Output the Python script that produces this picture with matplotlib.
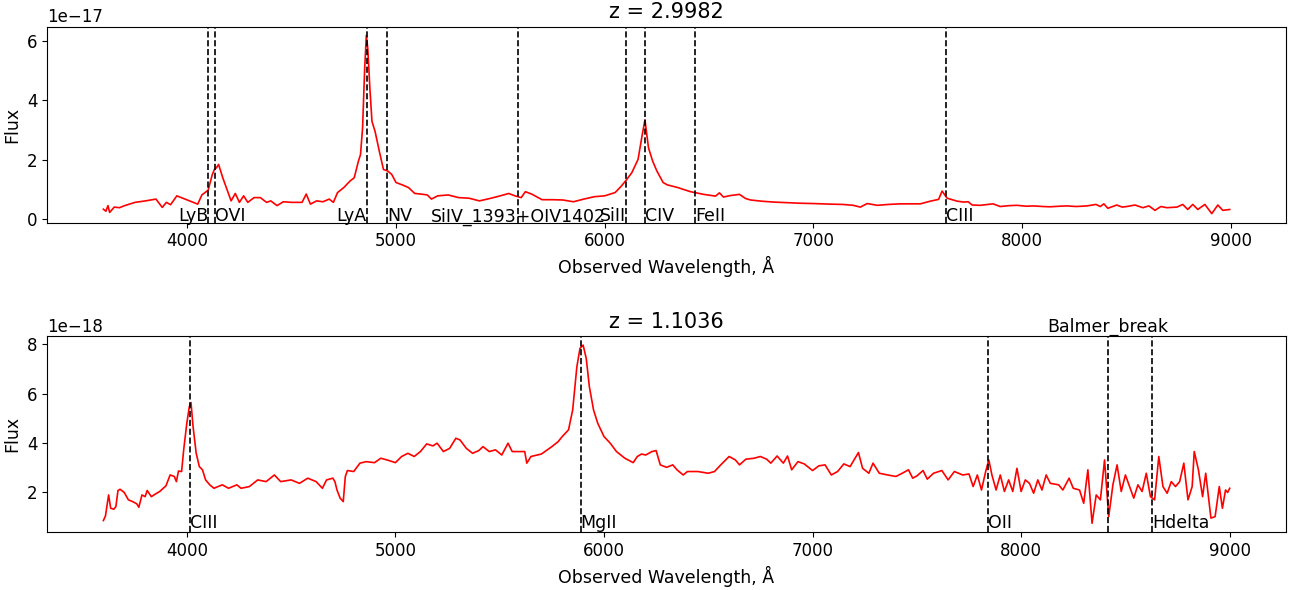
import matplotlib
matplotlib.use("Agg")
import matplotlib.pyplot as plt

# spectrum 1 (z = 2.9982), flux in units of 1e-17
wave_1 = [3598, 3610, 3620, 3628, 3650, 3675, 3700, 3750, 3800, 3850, 3880, 3900, 3920, 3950,
          4000, 4030, 4050, 4070, 4100, 4120, 4130, 4140, 4150, 4170, 4190, 4210, 4230, 4250,
          4270, 4290, 4320, 4350, 4380, 4400, 4430, 4460, 4500, 4550, 4570, 4590, 4620, 4650,
          4680, 4700, 4720, 4750, 4780, 4800, 4820, 4830, 4840, 4850, 4858, 4865, 4875, 4885,
          4900, 4920, 4940, 4960, 4980, 5000, 5030, 5060, 5090, 5120, 5150, 5170, 5200, 5250,
          5300, 5350, 5400, 5450, 5500, 5540, 5570, 5600, 5620, 5650, 5700, 5750, 5800, 5850,
          5900, 5950, 6000, 6050, 6080, 6100, 6130, 6160, 6180, 6193, 6210, 6230, 6250, 6280,
          6300, 6350, 6411, 6474, 6531, 6550, 6569, 6603, 6646, 6675, 6699, 6750, 6809, 6870,
          6938, 7000, 7081, 7140, 7191, 7225, 7258, 7306, 7360, 7417, 7470, 7513, 7560, 7600,
          7617, 7641, 7689, 7720, 7742, 7761, 7800, 7861, 7895, 7940, 7976, 8020, 8053, 8100,
          8134, 8180, 8215, 8260, 8311, 8354, 8375, 8392, 8411, 8454, 8480, 8502, 8541, 8579,
          8608, 8637, 8665, 8694, 8742, 8770, 8794, 8818, 8842, 8876, 8909, 8938, 8962, 8995]
flux_1 = [0.33, 0.26, 0.45, 0.22, 0.40, 0.38, 0.45, 0.56, 0.61, 0.67, 0.39, 0.56, 0.48, 0.78,
          0.64, 0.56, 0.50, 0.81, 0.97, 1.50, 1.67, 1.73, 1.84, 1.39, 1.00, 0.61, 0.86, 0.56,
          0.78, 0.56, 0.72, 0.72, 0.56, 0.61, 0.45, 0.58, 0.56, 0.56, 0.84, 0.50, 0.61, 0.58,
          0.67, 0.56, 0.89, 1.06, 1.28, 1.39, 1.95, 2.17, 3.07, 5.07, 6.19, 5.74, 4.40, 3.29,
          2.95, 2.29, 1.67, 1.62, 1.50, 1.23, 1.15, 1.06, 0.86, 0.84, 0.81, 0.67, 0.78, 0.81,
          0.72, 0.70, 0.61, 0.69, 0.78, 0.86, 0.78, 0.72, 0.92, 0.84, 0.65, 0.65, 0.64, 0.58,
          0.67, 0.75, 0.78, 0.89, 1.11, 1.28, 1.56, 2.01, 2.84, 3.34, 2.40, 1.95, 1.62, 1.23,
          1.15, 1.06, 0.92, 0.83, 0.77, 0.88, 0.74, 0.79, 0.83, 0.69, 0.64, 0.60, 0.57, 0.55,
          0.53, 0.52, 0.50, 0.49, 0.46, 0.40, 0.52, 0.46, 0.49, 0.51, 0.51, 0.51, 0.60, 0.66,
          0.94, 0.70, 0.60, 0.57, 0.58, 0.47, 0.46, 0.51, 0.42, 0.45, 0.46, 0.43, 0.44, 0.42,
          0.41, 0.43, 0.44, 0.42, 0.44, 0.49, 0.42, 0.51, 0.36, 0.47, 0.40, 0.42, 0.47, 0.38,
          0.44, 0.29, 0.42, 0.38, 0.40, 0.49, 0.32, 0.49, 0.32, 0.49, 0.18, 0.47, 0.29, 0.32]

# spectrum 2 (z = 1.1036), flux in units of 1e-18
wave_2 = [3600, 3610, 3625, 3635, 3650, 3660, 3670, 3680, 3700, 3720, 3740, 3760, 3770, 3785,
          3800, 3810, 3830, 3850, 3870, 3900, 3920, 3940, 3950, 3960, 3975, 3985, 4000, 4012,
          4020, 4030, 4045, 4060, 4075, 4090, 4110, 4130, 4150, 4170, 4200, 4240, 4260, 4300,
          4340, 4380, 4420, 4450, 4500, 4540, 4580, 4620, 4650, 4670, 4700, 4710, 4720, 4735,
          4750, 4760, 4770, 4800, 4830, 4860, 4900, 4930, 4960, 5000, 5030, 5060, 5090, 5120,
          5150, 5180, 5200, 5230, 5260, 5290, 5310, 5340, 5370, 5400, 5420, 5450, 5480, 5510,
          5540, 5560, 5600, 5620, 5630, 5650, 5700, 5750, 5780, 5800, 5830, 5850, 5870, 5885,
          5900, 5915, 5930, 5950, 5970, 6000, 6030, 6060, 6100, 6140, 6160, 6180, 6200, 6230,
          6250, 6270, 6300, 6330, 6350, 6380, 6400, 6450, 6500, 6530, 6560, 6600, 6630, 6650,
          6680, 6720, 6750, 6780, 6800, 6830, 6860, 6880, 6900, 6930, 6960, 7000, 7030, 7060,
          7090, 7120, 7150, 7180, 7220, 7240, 7270, 7290, 7320, 7360, 7400, 7430, 7460, 7480,
          7500, 7530, 7550, 7580, 7620, 7650, 7680, 7720, 7750, 7770, 7790, 7810, 7830, 7845,
          7860, 7880, 7900, 7920, 7940, 7960, 7980, 8000, 8020, 8040, 8060, 8080, 8100, 8120,
          8140, 8180, 8200, 8230, 8250, 8280, 8300, 8320, 8340, 8360, 8380, 8400, 8420, 8440,
          8460, 8480, 8500, 8520, 8540, 8560, 8580, 8600, 8620, 8640, 8660, 8680, 8700, 8720,
          8740, 8760, 8780, 8800, 8820, 8830, 8850, 8870, 8885, 8900, 8910, 8930, 8950, 8965,
          8980, 8990, 9000]
flux_2 = [0.85, 1.04, 1.89, 1.35, 1.31, 1.42, 2.07, 2.12, 1.99, 1.69, 1.62, 1.53, 1.39, 1.89,
          1.82, 2.07, 1.82, 1.93, 2.03, 2.26, 2.70, 2.64, 2.43, 2.86, 2.84, 3.72, 4.80, 5.47,
          5.64, 4.66, 3.58, 3.04, 2.91, 2.50, 2.30, 2.16, 2.23, 2.30, 2.16, 2.30, 2.16, 2.23,
          2.50, 2.43, 2.70, 2.43, 2.50, 2.36, 2.57, 2.43, 2.16, 2.50, 2.57, 2.43, 2.09, 1.76,
          1.62, 2.64, 2.88, 2.84, 3.18, 3.24, 3.20, 3.38, 3.31, 3.20, 3.45, 3.58, 3.45, 3.65,
          3.96, 3.88, 3.99, 3.65, 3.78, 4.19, 4.12, 3.78, 3.58, 3.69, 3.85, 3.65, 3.72, 3.51,
          3.99, 3.65, 3.65, 3.65, 3.18, 3.45, 3.55, 3.85, 4.05, 4.26, 4.53, 5.34, 7.09, 7.84,
          7.97, 7.43, 6.28, 5.34, 4.80, 4.26, 3.99, 3.65, 3.38, 3.20, 3.45, 3.55, 3.51, 3.65,
          3.69, 3.11, 3.01, 3.11, 2.91, 2.70, 2.84, 2.84, 2.77, 2.84, 3.11, 3.45, 3.31, 3.11,
          3.34, 3.38, 3.45, 3.34, 3.18, 3.47, 3.18, 3.47, 2.91, 3.24, 3.15, 2.88, 3.07, 3.11,
          2.70, 2.84, 3.15, 3.04, 3.61, 2.97, 2.77, 3.18, 2.77, 2.70, 2.64, 2.77, 2.91, 2.57,
          2.66, 2.88, 2.53, 2.77, 2.88, 2.50, 2.84, 2.70, 2.74, 2.23, 2.70, 2.09, 2.84, 3.31,
          2.70, 2.09, 2.70, 2.03, 2.50, 2.03, 2.97, 2.03, 2.50, 2.36, 1.96, 2.50, 2.09, 2.70,
          2.36, 2.30, 2.09, 2.57, 2.16, 2.09, 1.55, 2.91, 0.74, 1.89, 1.69, 3.31, 1.01, 2.30,
          3.11, 2.03, 2.70, 2.23, 1.76, 2.30, 2.03, 2.77, 1.82, 1.69, 3.45, 2.23, 1.96, 2.43,
          2.23, 2.43, 3.18, 1.69, 2.23, 3.65, 2.91, 1.82, 2.77, 1.69, 0.95, 1.01, 2.23, 1.35,
          2.09, 1.99, 2.16]

# line markers: observed wavelength, name, text alignment
lines_1 = [4101, 4133, 4860, 4958, 5585, 6103, 6193, 6435, 7634]
names_1 = ["LyB", "OVI", "LyA", "NV", "SiIV_1393+OIV1402", "SiII", "CIV", "FeII", "CIII"]
align_1 = ["right", "left", "right", "left", "center", "right", "left", "left", "left"]

lines_2 = [4016, 5888, 7840, 8415, 8629]
names_2 = ["CIII", "MgII", "OII", "Balmer_break", "Hdelta"]
align_2 = ["left", "left", "left", "center", "left"]


def draw_panel(ax, wave, flux, scale, lines, names, align, title, text_y, top_names=()):
    ax.plot(wave, [f * scale for f in flux], color="red", lw=1.2)
    trans = ax.get_xaxis_transform()
    for x, name, ha in zip(lines, names, align):
        ax.axvline(x, color="black", ls="--", lw=1.2)
        if name in top_names:
            ax.text(x, 1.0, name, transform=trans, ha=ha, va="bottom", fontsize=12.5)
        else:
            ax.text(x, text_y, name, transform=trans, ha=ha, va="baseline", fontsize=12.5)
    ax.set_title(title, fontsize=15)
    ax.set_xlabel("Observed Wavelength, Å", fontsize=12.5)
    ax.set_ylabel("Flux", fontsize=12.5)
    ax.tick_params(labelsize=12)
    ax.yaxis.get_offset_text().set_fontsize(12)


def main():
    fig, (ax1, ax2) = plt.subplots(2, 1, figsize=(12.93, 5.9), dpi=100)
    fig.subplots_adjust(left=0.0364, right=0.9946, top=0.955, bottom=0.098, hspace=0.58)

    draw_panel(ax1, wave_1, flux_1, 1e-17, lines_1, names_1, align_1, "z = 2.9982", 0.006)
    draw_panel(ax2, wave_2, flux_2, 1e-18, lines_2, names_2, align_2, "z = 1.1036", 0.02,
               top_names=("Balmer_break",))

    fig.savefig("out.png", dpi=100)


if __name__ == "__main__":
    main()
